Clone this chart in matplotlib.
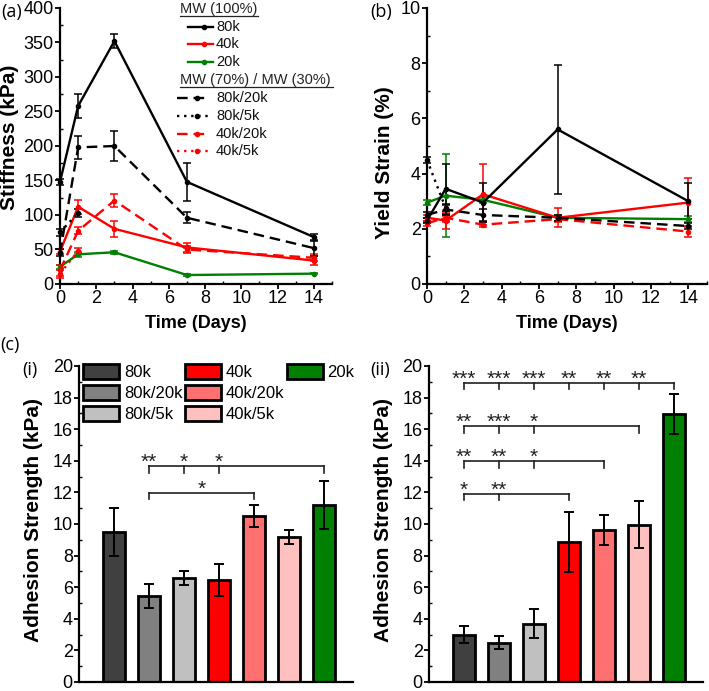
import matplotlib
matplotlib.use('Agg')
import matplotlib.pyplot as plt
from matplotlib.lines import Line2D
from matplotlib.patches import Patch
from matplotlib.ticker import MultipleLocator

plt.rcParams['font.family'] = ['Liberation Sans', 'DejaVu Sans']

# ---------------- data ----------------
days = [0, 1, 3, 7, 14]
days_5k = [0, 1]

# (a) stiffness (kPa)
stiff_80k = [148, 258, 352, 148, 68]
stiff_80k_err = [4, 17, 10, 28, 5]
stiff_40k = [47, 112, 80, 53, 34]
stiff_40k_err = [4, 10, 12, 6, 6]
stiff_20k = [25, 43, 46, 13, 15]
stiff_20k_err = [3, 4, 2, 1, 1]
stiff_80k20k = [45, 198, 200, 96, 52]
stiff_80k20k_err = [5, 17, 22, 8, 12]
stiff_40k20k = [20, 77, 121, 50, 38]
stiff_40k20k_err = [8, 5, 10, 5, 5]
stiff_80k5k = [75, 103]
stiff_80k5k_err = [5, 6]
stiff_40k5k = [15, 48]
stiff_40k5k_err = [6, 4]

# (b) yield strain (%)
ys_80k = [2.3, 3.45, 2.95, 5.6, 3.0]
ys_80k_err = [0.1, 0.9, 0.7, 2.35, 0.65]
ys_40k = [2.4, 2.3, 3.25, 2.4, 2.95]
ys_40k_err = [0.1, 0.3, 1.1, 0.35, 0.9]
ys_20k = [2.95, 3.2, 3.05, 2.4, 2.35]
ys_20k_err = [0.1, 1.5, 0.1, 0.1, 0.1]
ys_80k20k = [2.5, 2.7, 2.5, 2.4, 2.1]
ys_80k20k_err = [0.1, 0.2, 0.2, 0.1, 0.1]
ys_40k20k = [2.2, 2.4, 2.15, 2.35, 1.9]
ys_40k20k_err = [0.1, 0.1, 0.1, 0.1, 0.2]
ys_80k5k = [4.5, 2.75]
ys_80k5k_err = [0.1, 0.1]
ys_40k5k = [2.3, 2.35]
ys_40k5k_err = [0.1, 0.1]

# (c) adhesion strength (kPa)
groups = ['80k', '80k/20k', '80k/5k', '40k', '40k/20k', '40k/5k', '20k']
adh_i = [9.5, 5.45, 6.6, 6.45, 10.5, 9.2, 11.2]
adh_i_err = [1.5, 0.75, 0.45, 1.0, 0.7, 0.45, 1.5]
adh_ii = [3.0, 2.5, 3.7, 8.85, 9.65, 9.95, 16.95]
adh_ii_err = [0.55, 0.4, 0.9, 1.9, 0.95, 1.5, 1.25]

# significance brackets: (start group, end group, level, tick groups, labels, label groups)
sig_i = [
    (2, 7, 13.65, [2, 3, 4], ['**', '*', '*'], [2, 3, 4]),
    (2, 5, 11.98, [], ['*'], [3.5]),
]
sig_ii = [
    (1, 7, 18.95, [1, 2, 3, 4, 5, 6], ['***', '***', '***', '**', '**', '**'], [1, 2, 3, 4, 5, 6]),
    (1, 6, 16.2, [1, 2, 3], ['**', '***', '*'], [1, 2, 3]),
    (1, 5, 13.97, [1, 2, 3], ['**', '**', '*'], [1, 2, 3]),
    (1, 4, 11.92, [1, 2], ['*', '**'], [1, 2]),
]

# ---------------- styles ----------------
C80 = '#000000'
C40 = '#ff0000'
C20 = '#008000'
bar_colors = ['#404040', '#808080', '#c0c0c0', '#ff0000', '#ff7070', '#ffc0c0', '#008000']
DASH = (0, (4.5, 2.5))
DOT = (0, (1, 2))

W, H = 709, 691
fig = plt.figure(figsize=(W / 100, H / 100), dpi=100)


def fx(x):
    return x / W


def fy(y):
    return 1 - y / H


def ax_rect(l, t, r, b):
    return [fx(l), fy(b), (r - l) / W, (b - t) / H]


def style_axes(ax):
    for s in ['top', 'right']:
        ax.spines[s].set_visible(False)
    for s in ['left', 'bottom']:
        ax.spines[s].set_linewidth(1.6)
    ax.tick_params(which='major', direction='out', length=3.5, width=1.3, labelsize=13, pad=1)
    ax.tick_params(which='minor', direction='in', length=2.5, width=1.0)


def series(ax, x, y, e, color, ls):
    ax.errorbar(x, y, yerr=e, color=color, linestyle=ls, linewidth=1.7,
                marker='o', markersize=3, capsize=3, capthick=1.1, elinewidth=1.1,
                clip_on=False, zorder=3)


# ---------- (a) ----------
axa = fig.add_axes(ax_rect(60, 8, 332, 284))
style_axes(axa)
series(axa, days, stiff_20k, stiff_20k_err, C20, '-')
series(axa, days, stiff_40k20k, stiff_40k20k_err, C40, DASH)
series(axa, days_5k, stiff_40k5k, stiff_40k5k_err, C40, DOT)
series(axa, days, stiff_40k, stiff_40k_err, C40, '-')
series(axa, days_5k, stiff_80k5k, stiff_80k5k_err, C80, DOT)
series(axa, days, stiff_80k20k, stiff_80k20k_err, C80, DASH)
series(axa, days, stiff_80k, stiff_80k_err, C80, '-')
axa.set_xlim(0, 15)
axa.set_ylim(0, 400)
axa.xaxis.set_major_locator(MultipleLocator(2))
axa.xaxis.set_minor_locator(MultipleLocator(1))
axa.yaxis.set_major_locator(MultipleLocator(50))
axa.yaxis.set_minor_locator(MultipleLocator(25))

# ---------- (b) ----------
axb = fig.add_axes(ax_rect(427, 8, 707, 284))
style_axes(axb)
series(axb, days, ys_20k, ys_20k_err, C20, '-')
series(axb, days, ys_40k20k, ys_40k20k_err, C40, DASH)
series(axb, days_5k, ys_40k5k, ys_40k5k_err, C40, DOT)
series(axb, days, ys_40k, ys_40k_err, C40, '-')
series(axb, days_5k, ys_80k5k, ys_80k5k_err, C80, DOT)
series(axb, days, ys_80k20k, ys_80k20k_err, C80, DASH)
series(axb, days, ys_80k, ys_80k_err, C80, '-')
axb.set_xlim(0, 15)
axb.set_ylim(0, 10)
axb.xaxis.set_major_locator(MultipleLocator(2))
axb.xaxis.set_minor_locator(MultipleLocator(1))
axb.yaxis.set_major_locator(MultipleLocator(2))
axb.yaxis.set_minor_locator(MultipleLocator(1))


# ---------- (c) ----------
def bar_panel(ax, vals, errs, sigs):
    style_axes(ax)
    xs = list(range(1, len(groups) + 1))
    ax.bar(xs, vals, width=0.63, color=bar_colors, edgecolor='black', linewidth=2.0, zorder=2)
    ax.errorbar(xs, vals, yerr=errs, fmt='none', ecolor='black', elinewidth=1.4,
                capsize=3.6, capthick=1.4, zorder=3)
    ax.set_xlim(0, 7.83)
    ax.set_ylim(0, 20)
    ax.set_xticks([])
    ax.yaxis.set_major_locator(MultipleLocator(2))
    ax.yaxis.set_minor_locator(MultipleLocator(1))
    for (s, e, yl, ticks, labels, lx) in sigs:
        ax.plot([s, e], [yl, yl], color='#202020', lw=1.2, zorder=4)
        for t in sorted(set([s, e] + ticks)):
            ax.plot([t, t], [yl, yl - 0.42], color='#202020', lw=1.2, zorder=4)
        for lab, x in zip(labels, lx):
            ax.text(x, yl - 0.12, lab, ha='center', va='baseline', fontsize=15, color='#202020')


axc1 = fig.add_axes(ax_rect(79, 366, 353, 682))
bar_panel(axc1, adh_i, adh_i_err, sig_i)
axc2 = fig.add_axes(ax_rect(429, 366, 703, 682))
bar_panel(axc2, adh_ii, adh_ii_err, sig_ii)

handles = [Patch(facecolor=c, edgecolor='black', linewidth=2.0) for c in bar_colors]
labels = list(groups)
blank = Patch(facecolor='none', edgecolor='none')
handles += [blank, blank]
labels += ['', '']
axc1.legend(handles, labels, ncol=3, loc='upper left', bbox_to_anchor=(0.015, 1.005),
            frameon=False, fontsize=12, handlelength=2.15, handleheight=0.95,
            handletextpad=0.3, columnspacing=0.15, labelspacing=0.3, borderpad=0,
            borderaxespad=0)

# ---------- axis labels ----------
fig.text(fx(10), fy(137), 'Stiffness (kPa)', rotation=90, ha='center', va='center',
         fontsize=15, fontweight='bold')
fig.text(fx(196), fy(323), 'Time (Days)', ha='center', va='center', fontsize=13, fontweight='bold')
fig.text(fx(384), fy(163), 'Yield Strain (%)', rotation=90, ha='center', va='center',
         fontsize=15, fontweight='bold')
fig.text(fx(567), fy(323), 'Time (Days)', ha='center', va='center', fontsize=13, fontweight='bold')
fig.text(fx(34), fy(520), 'Adhesion Strength (kPa)', rotation=90, ha='center', va='center',
         fontsize=15, fontweight='bold')
fig.text(fx(383), fy(520), 'Adhesion Strength (kPa)', rotation=90, ha='center', va='center',
         fontsize=15, fontweight='bold')

# ---------- panel letters ----------
pl = dict(fontsize=13, family=['Open Sans', 'DejaVu Sans'], ha='left', va='center')
fig.text(fx(1), fy(12), '(a)', **pl)
fig.text(fx(370), fy(12), '(b)', **pl)
fig.text(fx(0), fy(345), '(c)', **pl)
fig.text(fx(22), fy(370), '(i)', **pl)
fig.text(fx(370), fy(370), '(ii)', **pl)

# ---------- legend for (a) ----------
hdr_col = '#222222'
lf = 10.5


def header(y, text, x_end):
    fig.text(fx(180), fy(y), text, ha='left', va='center', fontsize=lf, color=hdr_col)
    fig.add_artist(Line2D([fx(180), fx(x_end)], [fy(y + 6.5), fy(y + 6.5)], color=hdr_col, lw=0.9))


def entry(y, color, ls, label, x0, x1):
    fig.add_artist(Line2D([fx(x0), fx(x1)], [fy(y), fy(y)], color=color, linestyle=ls, lw=1.7))
    fig.add_artist(Line2D([fx((x0 + x1) / 2 + 3)], [fy(y)], color=color, marker='o', markersize=3))
    fig.text(fx(216), fy(y), label, ha='left', va='center', fontsize=lf, color='#111111')


header(9, 'MW (100%)', 258)
entry(27, C80, '-', '80k', 188, 213)
entry(44, C40, '-', '40k', 188, 213)
entry(62, C20, '-', '20k', 188, 213)
header(80, 'MW (70%) / MW (30%)', 333)
entry(98, C80, DASH, '80k/20k', 177, 210)
entry(116, C80, DOT, '80k/5k', 177, 210)
entry(134, C40, DASH, '40k/20k', 177, 210)
entry(151, C40, DOT, '40k/5k', 177, 210)

fig.savefig('out.png', dpi=100)
